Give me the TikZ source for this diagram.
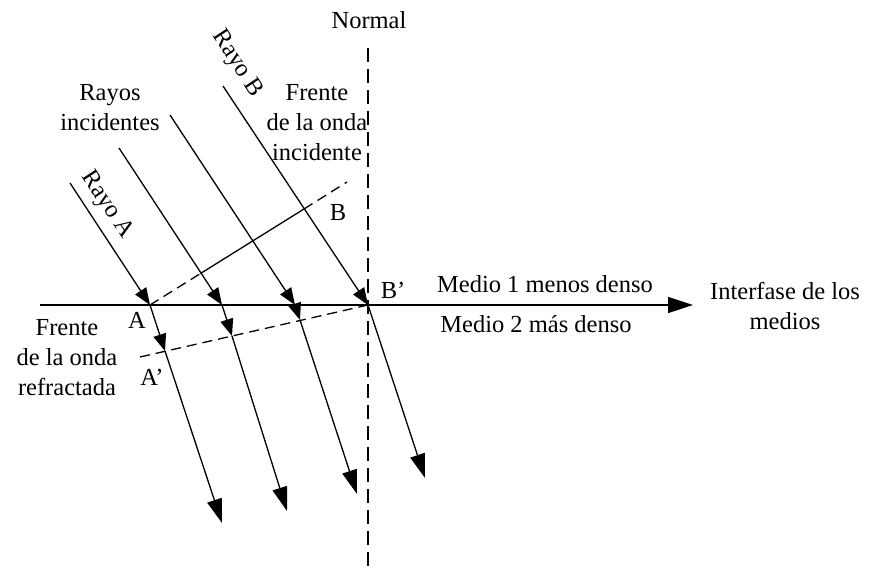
\documentclass[tikz,border=0pt]{standalone}
\usepackage{fontspec}
\setmainfont{Liberation Serif}
\usetikzlibrary{arrows.meta}
\begin{document}
\begin{tikzpicture}[x=1pt,y=-1pt,
  ray/.style={line width=1.3pt},
  tipsmall/.style={-{Triangle[length=17pt,width=13pt]}},
  tipbig/.style={-{Triangle[length=24pt,width=15pt]}},
  wave/.style={line width=1.3pt,dash pattern=on 10pt off 6pt},
  normalline/.style={line width=1.6pt,dash pattern=on 14pt off 7pt},
  lbl/.style={font=\fontsize{24.5}{30}\selectfont,inner sep=0pt,align=center}]
\useasboundingbox (0,0) rectangle (870,570);
% coordinates
\coordinate (a0) at (70,183);
\coordinate (A) at (150,305);
\coordinate (a1) at (165,351);
\coordinate (a2) at (222,523);
\coordinate (r2s) at (119,148);
\coordinate (r2i) at (222,305);
\coordinate (r2w) at (232,336);
\coordinate (r2e) at (287,511);
\coordinate (r3s) at (170,115);
\coordinate (r3i) at (295,305);
\coordinate (r3w) at (300,320);
\coordinate (r3e) at (357,494);
\coordinate (bs) at (223,86);
\coordinate (Bp) at (368,305);
\coordinate (be) at (425,478);
\coordinate (w2) at (200.5,273.5);
\coordinate (Bpt) at (304,209);
\coordinate (wend) at (347,182);
\coordinate (rwl) at (140,357);
\coordinate (n0) at (368,48);
\coordinate (n1) at (368,570);
\coordinate (i0) at (40,305);
\coordinate (i1) at (693,305);
% normal and interface
\draw[normalline] (n0) -- (n1);
\draw[line width=1.6pt,-{Triangle[length=25pt,width=16pt]}] (i0) -- (i1);
% wavefronts
\draw[wave] (A) -- (w2);
\draw[line width=1.3pt] (w2) -- (Bpt);
\draw[wave] (Bpt) -- (wend);
\draw[wave] (rwl) -- (Bp);
% rays
\draw[ray,tipsmall] (a0) -- (A);
\draw[ray,tipsmall] (A) -- (a1);
\draw[ray,tipbig] (a1) -- (a2);
\draw[ray,tipsmall] (r2s) -- (r2i);
\draw[ray,tipsmall] (r2i) -- (r2w);
\draw[ray,tipbig] (r2w) -- (r2e);
\draw[ray,tipsmall] (r3s) -- (r3i);
\draw[ray,tipsmall] (r3i) -- (r3w);
\draw[ray,tipbig] (r3w) -- (r3e);
\draw[ray,tipsmall] (bs) -- (Bp);
\draw[ray,tipbig] (Bp) -- (be);
% labels
\node[lbl] (lnormal) at (369,20) {Normal};
\node[lbl,rotate=-56.7] (lrayoB) at (237,64) {Rayo B};
\node[lbl,rotate=-56.7] (lrayoA) at (107,205) {Rayo A};
\node[lbl] (lrayos) at (110,108) {Rayos\\incidentes};
\node[lbl] (lfinc) at (317,123) {Frente\\de la onda\\incidente};
\node[lbl] (lB) at (338,213) {B};
\node[lbl] (lBp) at (393,290) {B’};
\node[lbl] (lA) at (137,320) {A};
\node[lbl] (lAp) at (152,377) {A’};
\node[lbl] (lfref) at (67,358) {Frente\\de la onda\\refractada};
\node[lbl] (lm1) at (545,284) {Medio 1 menos denso};
\node[lbl] (lm2) at (536,324) {Medio 2 más denso};
\node[lbl] (linter) at (785,306) {Interfase de los\\medios};
\end{tikzpicture}
\end{document}
